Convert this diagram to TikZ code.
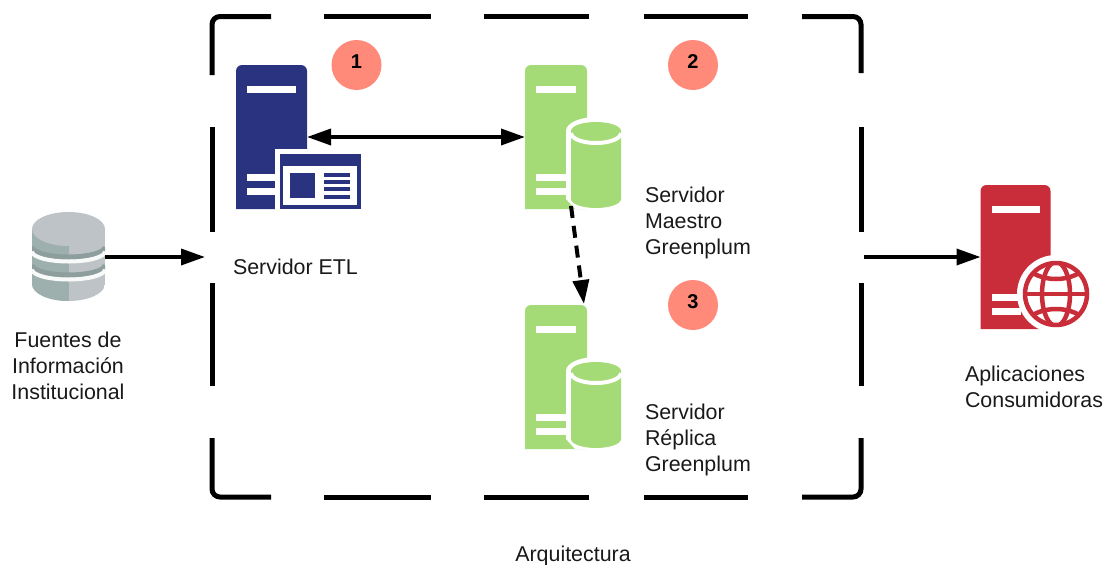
\documentclass[tikz,border=0pt]{standalone}
\usepackage{fontspec}
\setmainfont{Liberation Sans}
\usetikzlibrary{arrows.meta}
\definecolor{etlblue}{HTML}{2A337F}
\definecolor{gpgreen}{HTML}{A5DB77}
\definecolor{appred}{HTML}{C92D3A}
\definecolor{badgepink}{HTML}{FF8A7A}
\definecolor{dblight}{HTML}{BDC3C6}
\definecolor{dbdark}{HTML}{9DB0AD}
\tikzset{
  every node/.style={inner sep=0pt, outer sep=0pt},
  hostbox/.style={minimum width=#1, minimum height=144pt},
  caption/.style={align=left, text=black!90, font=\fontsize{21.4}{26.2}\selectfont},
  badge/.style={circle, fill=badgepink, minimum size=50pt},
  badgetext/.style={font=\fontsize{20}{22}\selectfont\bfseries},
  frameline/.style={line width=5pt},
  link/.style={line width=3.5pt, -{Triangle[length=24pt,width=16pt]}},
}
\newcommand{\hostshape}[2]{
  \fill[#2] (#1.south west) [rounded corners=6pt] -- (#1.north west) -- (#1.north east) [sharp corners] -- (#1.south east) -- cycle;
  \fill[white] ([xshift=11pt,yshift=-21pt]#1.north west) rectangle ([xshift=-11pt,yshift=-28pt]#1.north east);
}
\newcommand{\hostbars}[2]{
  \fill[white] ([xshift=11pt,yshift=35pt]#1.south west) rectangle ([xshift=#2,yshift=28pt]#1.south west);
  \fill[white] ([xshift=11pt,yshift=21pt]#1.south west) rectangle ([xshift=#2,yshift=14pt]#1.south west);
}
\newcommand{\gpdisk}[1]{
  \begin{scope}[shift={(#1)}]
    \fill[white] (-30,0) arc[start angle=180, end angle=360, x radius=30, y radius=14] -- (30,78) -- (-21,78) -- (-30,68) -- cycle;
    \fill[gpgreen] (-25,0) arc[start angle=180, end angle=360, x radius=25, y radius=9] -- (25,68) arc[start angle=0, end angle=180, x radius=25, y radius=9] -- cycle;
    \draw[white, line width=4pt] (-25,2) arc[start angle=180, end angle=0, x radius=25, y radius=10];
  \end{scope}
}
\begin{document}
\begin{tikzpicture}[x=1pt, y=-1pt]
  \useasboundingbox (0,0) rectangle (1106,565);

  \draw[frameline, rounded corners=8pt] (212,75) -- (212,16.5) -- (271,16.5);
  \draw[frameline, rounded corners=8pt] (802,16.5) -- (861,16.5) -- (861,73);
  \draw[frameline, rounded corners=8pt] (212,438) -- (212,497) -- (271,497);
  \draw[frameline, rounded corners=8pt] (802,497) -- (861,497) -- (861,438);
  \foreach \xa/\xb in {324/431, 484/589, 644/748} {
    \draw[frameline] (\xa,16.5) -- (\xb,16.5);
    \draw[frameline] (\xa,497) -- (\xb,497);
  }
  \foreach \ya/\yb in {127/232, 283/386} {
    \draw[frameline] (212,\ya) -- (212,\yb);
    \draw[frameline] (861,\ya) -- (861,\yb);
  }

  \node[hostbox=71pt] (etl) at (271.5,137) {};
  \node[hostbox=62pt] (maestro) at (556,137) {};
  \node[hostbox=62pt] (replica) at (556,377) {};
  \node[hostbox=70pt] (apps) at (1015.5,257) {};
  \node[minimum width=73pt, minimum height=89pt] (db) at (68.5,257) {};
  \coordinate (framein) at (205,257);
  \coordinate (frameout) at (864,257);
  \coordinate (dashstart) at (571,206);
  \coordinate (dashend) at (584,304);

  \hostshape{etl}{etlblue}
  \hostbars{etl}{40pt}
  \fill[white] (275,149) rectangle (362,210);
  \fill[etlblue] (280,154) rectangle (361,209);
  \fill[white] (283,166) rectangle (357,205);
  \fill[etlblue] (290,173) rectangle (315,198);
  \foreach \yline in {173,180,187,195}
    \fill[etlblue] (324,\yline) rectangle (350,\yline+3.5);

  \hostshape{maestro}{gpgreen}
  \hostbars{maestro}{42pt}
  \gpdisk{596,131}
  \hostshape{replica}{gpgreen}
  \hostbars{replica}{42pt}
  \gpdisk{596,371}

  \hostshape{apps}{appred}
  \hostbars{apps}{40pt}
  \fill[white] (1056,294) circle[radius=39];
  \begin{scope}
    \clip (1056,294) circle[radius=32];
    \draw[appred, line width=4.5pt] (1056,294) ellipse[x radius=14, y radius=32];
    \draw[appred, line width=4.5pt] (1020,294) -- (1092,294);
    \draw[appred, line width=4.5pt] (1028,270) .. controls (1044,282) and (1068,282) .. (1084,270);
    \draw[appred, line width=4.5pt] (1028,318) .. controls (1044,306) and (1068,306) .. (1084,318);
  \end{scope}
  \draw[appred, line width=4.5pt] (1056,294) circle[radius=31];

  \begin{scope}
    \clip (32,229) -- (32,284) arc[start angle=180, end angle=0, x radius=36.5, y radius=17] -- (105,229) -- cycle;
    \fill[dblight] (32,200) rectangle (105,310);
    \fill[dbdark] (32,200) rectangle (68.5,310);
    \foreach \yband in {247,265} {
      \draw[dbdark!90!black, line width=5pt] (32,\yband) arc[start angle=180, end angle=0, x radius=36.5, y radius=10];
      \draw[white!90!dblight, line width=4pt] (32,\yband+4.5) arc[start angle=180, end angle=0, x radius=36.5, y radius=10];
    }
  \end{scope}
  \fill[dblight] (68.5,229) ellipse[x radius=36.5, y radius=17];

  \draw[link] (db.east) -- (framein);
  \draw[link, {Triangle[length=24pt,width=16pt]}-{Triangle[length=24pt,width=16pt]}] (etl.east) -- (maestro.west);
  \draw[link, line width=4pt, dash pattern=on 12pt off 8pt] (dashstart) -- (dashend);
  \draw[link] (frameout) -- (apps.west);

  \node[badge] (b1) at (356.5,65) {};
  \node[badgetext] (n1) at (356.5,61.5) {1};
  \node[badge] (b2) at (693,65) {};
  \node[badgetext] (n2) at (693,61.5) {2};
  \node[badge] (b3) at (693,305) {};
  \node[badgetext] (n3) at (693,301.5) {3};

  \node[caption, anchor=west] (etlcap) at (233,267) {Servidor ETL};
  \node[caption, anchor=west] (maestrocap) at (645,223) {Servidor\\Maestro\\Greenplum};
  \node[caption, anchor=west] (replicacap) at (645,440) {Servidor\\Réplica\\Greenplum};
  \node[caption, align=center] (dbcap) at (68,366) {Fuentes de\\Información\\Institucional};
  \node[caption, anchor=west] (appscap) at (965,387) {Aplicaciones\\Consumidoras};
  \node[caption] (title) at (573,556) {Arquitectura};
\end{tikzpicture}
\end{document}
